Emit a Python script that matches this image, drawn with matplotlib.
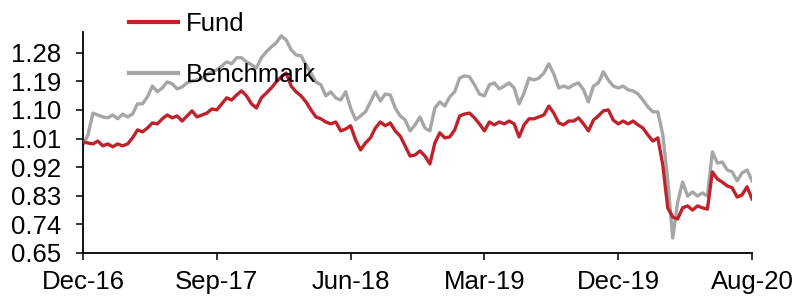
import matplotlib
matplotlib.use('Agg')
import matplotlib.pyplot as plt
import numpy as np

plt.rcParams['font.family'] = ['Liberation Sans', 'DejaVu Sans']

fund = [0.999, 0.996, 0.993, 1.002, 0.987, 0.993, 0.984, 0.993, 0.987, 0.993,
        1.012, 1.037, 1.031, 1.043, 1.059, 1.056, 1.072, 1.084, 1.075, 1.081,
        1.065, 1.081, 1.097, 1.078, 1.084, 1.090, 1.103, 1.100, 1.119, 1.138,
        1.131, 1.147, 1.160, 1.144, 1.119, 1.106, 1.138, 1.153, 1.169, 1.188,
        1.204, 1.216, 1.175, 1.157, 1.144, 1.125, 1.100, 1.078, 1.072, 1.062,
        1.056, 1.062, 1.034, 1.040, 1.050, 1.006, 0.974, 0.996, 1.012, 1.043,
        1.062, 1.050, 1.059, 1.034, 1.018, 0.987, 0.955, 0.958, 0.971, 0.955,
        0.930, 0.996, 1.028, 1.012, 1.015, 1.037, 1.081, 1.087, 1.090, 1.075,
        1.056, 1.034, 1.062, 1.053, 1.062, 1.056, 1.065, 1.056, 1.015, 1.053,
        1.072, 1.072, 1.078, 1.084, 1.112, 1.090, 1.059, 1.053, 1.065, 1.065,
        1.075, 1.056, 1.034, 1.068, 1.081, 1.097, 1.100, 1.068, 1.056, 1.065,
        1.056, 1.065, 1.053, 1.043, 1.021, 1.002, 1.012, 0.927, 0.792, 0.763,
        0.757, 0.792, 0.798, 0.785, 0.798, 0.792, 0.788, 0.905, 0.883, 0.873,
        0.861, 0.855, 0.826, 0.833, 0.858, 0.820]

benchmark = [0.990, 1.021, 1.090, 1.084, 1.078, 1.075, 1.084, 1.072, 1.087, 1.078,
             1.087, 1.119, 1.119, 1.141, 1.175, 1.157, 1.169, 1.188, 1.182, 1.166,
             1.172, 1.185, 1.191, 1.194, 1.200, 1.210, 1.220, 1.226, 1.238, 1.251,
             1.245, 1.264, 1.264, 1.251, 1.242, 1.232, 1.264, 1.283, 1.298, 1.311,
             1.333, 1.320, 1.289, 1.273, 1.270, 1.242, 1.216, 1.188, 1.179, 1.144,
             1.157, 1.138, 1.131, 1.157, 1.106, 1.069, 1.081, 1.094, 1.125, 1.157,
             1.128, 1.150, 1.147, 1.106, 1.081, 1.069, 1.034, 1.053, 1.078, 1.043,
             1.034, 1.106, 1.125, 1.112, 1.141, 1.157, 1.200, 1.207, 1.204, 1.179,
             1.150, 1.144, 1.179, 1.185, 1.166, 1.175, 1.185, 1.169, 1.119, 1.153,
             1.200, 1.194, 1.200, 1.216, 1.245, 1.213, 1.169, 1.175, 1.169, 1.179,
             1.185, 1.163, 1.125, 1.175, 1.185, 1.220, 1.194, 1.175, 1.169, 1.175,
             1.163, 1.160, 1.150, 1.131, 1.109, 1.094, 1.094, 1.021, 0.880, 0.697,
             0.810, 0.873, 0.829, 0.842, 0.829, 0.839, 0.829, 0.968, 0.933, 0.936,
             0.911, 0.905, 0.877, 0.902, 0.911, 0.877]

xlabels = ['Dec-16', 'Sep-17', 'Jun-18', 'Mar-19', 'Dec-19', 'Aug-20']
yticks = [0.65, 0.74, 0.83, 0.92, 1.01, 1.10, 1.19, 1.28]

red = '#C0222B'
grey = '#A6A6A6'

fig = plt.figure(figsize=(7.96, 2.98), dpi=100)
ax = fig.add_axes([83 / 796, 45 / 298, 669 / 796, 221 / 298])

n = len(fund)
x = np.arange(n)
ax.plot(x, fund, color=red, lw=2.4, label='Fund', zorder=3)
ax.plot(x, benchmark, color=grey, lw=2.4, label='Benchmark', zorder=2)

ax.set_xlim(0, n - 1)
ax.set_ylim(0.65, 1.345)
ax.set_yticks(yticks)
ax.set_yticklabels(['%.2f' % v for v in yticks])
ax.set_xticks(np.linspace(0, n - 1, len(xlabels)))
ax.set_xticklabels(xlabels)

for s in ['top', 'right']:
    ax.spines[s].set_visible(False)
for s in ['left', 'bottom']:
    ax.spines[s].set_linewidth(1.3)
ax.tick_params(axis='both', direction='out', length=5, width=1.1,
               labelsize=18.5, colors='black')
ax.tick_params(axis='y', pad=11)
ax.tick_params(axis='x', pad=7)

leg = ax.legend(loc='upper left', bbox_to_anchor=(124 / 796, 291 / 298),
                bbox_transform=fig.transFigure, frameon=False, fontsize=18.5,
                handlelength=1.9, handletextpad=0.3, labelspacing=1.05,
                borderpad=0.2, borderaxespad=0)
for h in leg.get_lines():
    h.set_linewidth(3)

fig.savefig('out.png', dpi=100)
